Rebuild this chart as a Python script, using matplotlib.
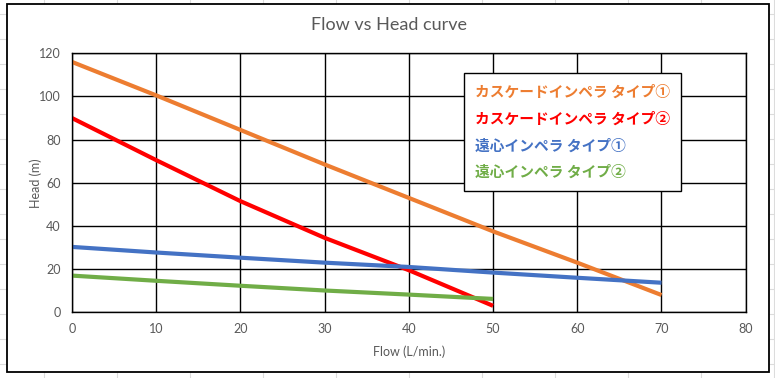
import numpy as np
import matplotlib.pyplot as plt
from matplotlib.patches import Rectangle
from matplotlib.lines import Line2D

plt.rcParams['font.family'] = ['Lato', 'Noto Sans CJK JP', 'DejaVu Sans']

# data
flow_long = [0, 10, 20, 30, 40, 50, 60, 70]
flow_short = [0, 10, 20, 30, 40, 50]
cascade1 = [116, 100.5, 84.5, 68.5, 53, 37.5, 23, 8]
cascade2 = [90, 70.5, 51.5, 34.5, 19.5, 3]
centri1 = [30.3, 27.7, 25.3, 23.0, 21.0, 18.4, 16.0, 13.7]
centri2 = [17, 14.6, 12.3, 10.1, 8.2, 6.2]

names = ['カスケードインペラ タイプ①', 'カスケードインペラ タイプ②',
         '遠心インペラ タイプ①', '遠心インペラ タイプ②']
colors = ['#ED7D31', '#FF0000', '#4472C4', '#70AD47']

xticks = np.arange(0, 90, 10)
yticks = np.arange(0, 140, 20)
grey = '#595959'

W, H = 775, 378
fig = plt.figure(figsize=(W / 100, H / 100), dpi=100)

# spreadsheet cell lines behind the chart
for x in np.arange(44, W, 73):
    fig.add_artist(Line2D([x / W, x / W], [0, 1], color='#dcdcdc', lw=0.8, zorder=0))
for y in np.arange(14, H, 25):
    fig.add_artist(Line2D([0, 1], [1 - y / H, 1 - y / H], color='#dcdcdc', lw=0.8, zorder=0))

# chart area
fig.add_artist(Rectangle((7 / W, 1 - 372 / H), 762 / W, 368 / H, facecolor='white',
                         edgecolor='black', lw=1.3, zorder=1))

ax = fig.add_axes([72 / W, 1 - 312.3 / H, 673.7 / W, 259 / H])
ax.set_zorder(2)
ax.patch.set_alpha(0)

ax.plot(flow_long, cascade1, color=colors[0], lw=3, solid_capstyle='butt')
ax.plot(flow_short, cascade2, color=colors[1], lw=3, solid_capstyle='butt')
ax.plot(flow_long, centri1, color=colors[2], lw=3, solid_capstyle='butt')
ax.plot(flow_short, centri2, color=colors[3], lw=3, solid_capstyle='butt')

ax.set_xlim(0, 80)
ax.set_ylim(0, 120)
ax.set_xticks(xticks)
ax.set_yticks(yticks)
ax.grid(True, color='black', lw=1)
ax.set_axisbelow(True)
ax.tick_params(length=0, labelsize=9, labelcolor=grey, pad=8)
for s in ax.spines.values():
    s.set_color('black')
    s.set_linewidth(1)

ax.set_xlabel('Flow (L/min.)', fontsize=9, color=grey, labelpad=7)
ax.set_ylabel('Head (m)', fontsize=9, color=grey, labelpad=-2)
fig.text(389 / W, 1 - 25 / H, 'Flow vs Head curve', ha='center', va='center',
         fontsize=13, color=grey)

# text-only legend in the series colours
leg = ax.legend(ax.get_lines(), names, loc='upper left', bbox_to_anchor=(0.582, 0.924),
                borderaxespad=0, handlelength=0, handletextpad=0, frameon=True,
                fancybox=False, edgecolor='black', framealpha=1, borderpad=0.75,
                labelspacing=0.72,
                prop={'family': ['Noto Sans CJK JP'], 'weight': 'bold', 'size': 10.6})
leg.get_frame().set_linewidth(1)
for h in leg.legend_handles:
    h.set_visible(False)
for t, c in zip(leg.get_texts(), colors):
    t.set_color(c)

fig.savefig('out.png', dpi=100)
